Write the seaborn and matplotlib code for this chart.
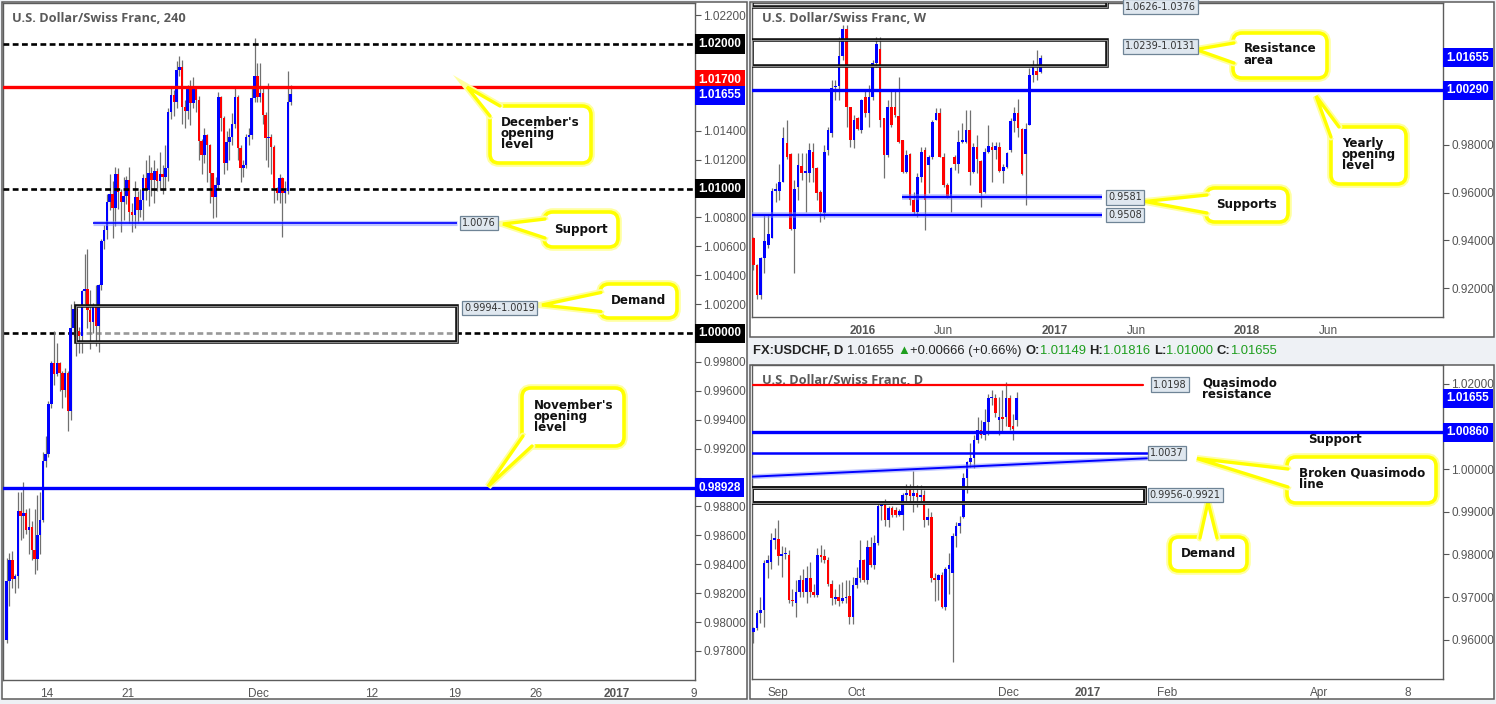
"""
USD/CHF 三联图: 4H / 周线 / 日线 K线 + 关键价位标注
"""
import numpy as np
import matplotlib
matplotlib.use("Agg")
import matplotlib.pyplot as plt
import seaborn as sns
from matplotlib.patches import Rectangle, FancyBboxPatch, Polygon

sns.set_style("white")
plt.rcParams['font.family'] = ['Liberation Sans', 'DejaVu Sans']

# ---------------- 4H 数据 (开盘 = 上一根收盘) ----------------
h4_first_open = 0.97878
h4_close = [
    .98281, .98431, .98298, .98316, .98770, .98731, .98754, .98639, .98660, .98500,
    .98438, .98604, .98708, .99112, .99163, .99511, .99792, .99716, .99792, .99723,
    .99603, .99723, .99458, 1.00035, 1.00168, 1.00011, .99977, 1.00293, 1.00305, 1.00161,
    1.00074, 1.00196, 1.00046, 1.00331, 1.00634,
    1.00710, 1.00906, 1.00963, 1.00866, 1.01104, 1.00973, 1.00909, 1.00950, 1.01060, 1.00840,
    1.00820, 1.00940, 1.00850, 1.00920, 1.01070, 1.00990, 1.01110, 1.01060, 1.01120, 1.01050,
    1.01100, 1.01080, 1.01140,
    1.01532, 1.01647, 1.01601, 1.01820, 1.01843, 1.01566, 1.01540, 1.01705, 1.01589, 1.01700,
    1.01612, 1.01330, 1.01232, 1.01370, 1.01301, 1.01105, 1.00943, 1.01024, 1.01636, 1.01486,
    1.01174, 1.01324, 1.01359, 1.01446, 1.01636, 1.01278, 1.01140, 1.01163, 1.01359, 1.01370,
    1.01624, 1.01779, 1.01636, 1.01663, 1.01509, 1.01347, 1.01359, 1.01289, 1.01001, 1.00967,
    1.01070, 1.00967, 1.00985, 1.01601, 1.01655]
h4_high = [
    .98443, .98477, .98489, .98330, .98897, .98897, .98967, .98780, .98790, .98700,
    .98780, .98880, .98900, .99180, .99285, .99530, .99810, 1.00011, .99931, .99800,
    .99740, .99760, .99740, 1.00200, 1.00225, 1.00190, 1.00040, 1.00300, 1.00550, 1.00581,
    1.00300, 1.00210, 1.00330, 1.00340, 1.00650,
    1.00750, 1.00960, 1.01098, 1.01051, 1.01150, 1.01140, 1.01000, 1.01080, 1.01090, 1.01150,
    1.00900, 1.01053, 1.00980, 1.01000, 1.01100, 1.01200, 1.01230, 1.01150, 1.01200, 1.01140,
    1.01250, 1.01160, 1.01300,
    1.01560, 1.01700, 1.01680, 1.01880, 1.01920, 1.01890, 1.01610, 1.01720, 1.01750, 1.01770,
    1.01710, 1.01640, 1.01340, 1.01420, 1.01380, 1.01310, 1.01105, 1.01080, 1.01670, 1.01640,
    1.01500, 1.01400, 1.01420, 1.01520, 1.01700, 1.01650, 1.01300, 1.01200, 1.01380, 1.01420,
    1.01700, 1.02039, 1.01870, 1.01870, 1.01700, 1.01530, 1.01728, 1.01380, 1.01300, 1.01010,
    1.01100, 1.01080, 1.01050, 1.01815, 1.01720]
h4_low = [
    .97855, .98108, .98235, .98201, .98235, .98570, .98580, .98610, .98470, .98430,
    .98330, .98360, .98470, .98690, .99070, .99140, .99480, .99640, .99700, .99600,
    .99481, .99560, .99320, .99400, .99980, .99840, .99860, .99860, 1.00200, 1.00035,
    .99890, 1.00000, .99910, .99870, 1.00300,
    1.00580, 1.00650, 1.00850, 1.00660, 1.00740, 1.00860, 1.00700, 1.00780, 1.00890, 1.00760,
    1.00700, 1.00730, 1.00760, 1.00800, 1.00780, 1.00920, 1.00880, 1.00950, 1.00900, 1.00980,
    1.00990, 1.00960, 1.01000,
    1.01050, 1.01480, 1.01500, 1.01560, 1.01780, 1.01450, 1.01420, 1.01480, 1.01440, 1.01560,
    1.01530, 1.01200, 1.01100, 1.01180, 1.01047, 1.00900, 1.00794, 1.00800, 1.00990, 1.01400,
    1.01100, 1.01130, 1.01200, 1.01300, 1.01420, 1.01200, 1.01047, 1.01080, 1.01140, 1.01300,
    1.01340, 1.01600, 1.01600, 1.01600, 1.01450, 1.01200, 1.01150, 1.01100, 1.00900, 1.00920,
    1.00900, 1.00667, 1.00900, 1.00960, 1.01580]
h4_ticks = [14.5, 43.6, 90.3, 131.2, 160.7, 190.1, 219.2, 246.6]
h4_tick_labels = ['14', '21', 'Dec', '12', '19', '26', '2017', '9']

# ---------------- 周线数据 ----------------
w_open = [
    .9409, .9297, .9171, .9325, .9381, .9409, .9608, .9608, .9646, .9806,
    .9762, .9450, .9625, .9711, .9683, .9683, .9771, .9702, .9604, .9513,
    .9778, .9848, 1.0041, 1.0046, 1.0172, 1.0287, .9960, .9820, .9911, .9862,
    .9999, .9932, 1.0001, 1.0144, 1.0200, .9911, .9757, .9957, .9960, .9921,
    .9820, .9688, .9762, .9569, .9520, .9664, .9778, .9715, .9750, .9904,
    .9935, .9750, .9632, .9583, .9750, .9722, .9813, .9813, .9862, .9688,
    .9792, .9732, .9604, .9771, .9792, .9778, .9792, .9692, .9709, .9778,
    .9901, .9935, .9865, .9762, .9883, 1.0092, 1.0110, 1.0106]
w_close = [
    .9297, .9171, .9325, .9399, .9429, .9608, .9611, .9646, .9827, .9750,
    .9450, .9614, .9714, .9681, .9692, .9778, .9702, .9600, .9520, .9771,
    .9862, 1.0036, 1.0046, 1.0172, 1.0283, .9960, .9820, .9904, .9865, .9988,
    .9932, .9999, 1.0144, 1.0222, .9904, .9757, .9960, .9883, .9925, .9813,
    .9688, .9757, .9569, .9520, .9664, .9771, .9569, .9750, .9897, .9932,
    .9750, .9632, .9586, .9702, .9722, .9813, .9816, .9862, .9688, .9792,
    .9739, .9597, .9771, .9796, .9778, .9796, .9692, .9709, .9764, .9901,
    .9932, .9869, .9678, .9865, 1.0092, 1.0124, 1.0092, 1.01655]
w_high = [
    .9416, .9300, .9332, .9506, .9506, .9618, .9640, .9722, .9876, .9904,
    .9764, .9653, .9764, .9764, .9764, .9806, .9806, .9709, .9611, .9799,
    .9876, 1.0071, 1.0071, 1.0253, 1.0301, 1.0301, .9960, .9925, .9918, .9994,
    1.0032, 1.0050, 1.0155, 1.0253, 1.0253, .9911, .9988, 1.0032, 1.0032, 1.0085,
    .9820, .9778, .9764, .9604, .9681, .9792, .9792, .9757, .9904, .9953,
    .9953, .9764, .9640, .9709, .9757, .9862, .9890, .9946, .9946, .9806,
    .9841, .9736, .9785, .9883, .9813, .9813, .9813, .9722, .9771, .9911,
    .9960, .9994, .9869, .9893, 1.0120, 1.0155, 1.0197, 1.0176]
w_low = [
    .9276, .9157, .9157, .9262, .9367, .9499, .9560, .9569, .9646, .9743,
    .9443, .9262, .9569, .9653, .9520, .9646, .9646, .9569, .9478, .9492,
    .9757, .9834, .9988, .9988, 1.0155, .9876, .9792, .9785, .9862, .9848,
    .9918, .9876, .9988, 1.0127, .9876, .9660, .9750, .9876, .9918, .9806,
    .9681, .9681, .9548, .9506, .9499, .9646, .9443, .9600, .9743, .9904,
    .9750, .9625, .9576, .9520, .9695, .9681, .9806, .9806, .9632, .9681,
    .9681, .9541, .9597, .9764, .9646, .9743, .9688, .9639, .9702, .9771,
    .9855, .9834, .9674, .9548, .9883, 1.0064, 1.0071, 1.0099]
w_ticks = [29.3, 51.1, 80.9, 102.6, 132.4, 154.3]
w_tick_labels = ['2016', 'Jun', '2017', 'Jun', '2018', 'Jun']

# ---------------- 日线数据 ----------------
d_open = [
    .9619, .9627, .9662, .9670, .9779, .9783, .9834, .9837, .9797, .9800,
    .9799, .9693, .9686, .9713, .9740, .9713, .9744, .9713, .9705, .9799,
    .9797, .9787, .9732, .9696, .9701, .9690, .9697, .9702, .9654, .9728,
    .9746, .9787, .9740, .9818, .9775, .9826, .9913, .9920, .9881, .9909,
    .9904, .9893, .9893, .9939, .9951, .9938, .9945, .9935, .9940, .9881,
    .9887, .9744, .9740, .9752, .9678, .9766, .9756, .9844, .9867, .9888,
    .9978, 1.0017, 1.0025, 1.0068, 1.0092, 1.0080, 1.0111, 1.0166, 1.0166, 1.0115,
    1.0123, 1.0123, 1.0166, 1.0100, 1.01149]
d_high = [
    .9631, .9670, .9701, .9787, .9799, .9850, .9861, .9880, .9820, .9818,
    .9811, .9720, .9740, .9752, .9767, .9773, .9782, .9730, .9815, .9822,
    .9814, .9795, .9740, .9720, .9730, .9736, .9740, .9740, .9748, .9771,
    .9834, .9790, .9834, .9842, .9846, .9918, .9923, .9930, .9913, .9913,
    .9912, .9906, .9943, .9966, .9964, .9995, .9962, .9963, .9950, .9908,
    .9900, .9756, .9755, .9758, .9770, .9804, .9850, .9875, .9890, .9990,
    1.0020, 1.0060, 1.0080, 1.0123, 1.0115, 1.0140, 1.0177, 1.0185, 1.0177, 1.0170,
    1.0185, 1.0203, 1.0174, 1.0130, 1.01816]
d_low = [
    .9592, .9623, .9639, .9631, .9744, .9767, .9814, .9775, .9748, .9790,
    .9686, .9680, .9654, .9701, .9701, .9687, .9701, .9700, .9700, .9783,
    .9779, .9726, .9682, .9684, .9680, .9686, .9686, .9637, .9638, .9721,
    .9736, .9736, .9732, .9770, .9767, .9822, .9880, .9867, .9864, .9888,
    .9888, .9889, .9857, .9924, .9920, .9900, .9912, .9920, .9865, .9870,
    .9736, .9690, .9693, .9675, .9670, .9708, .9549, .9818, .9850, .9885,
    .9943, 1.0005, 1.0002, 1.0060, 1.0074, 1.0068, 1.0080, 1.0150, 1.0123, 1.0080,
    1.0090, 1.0101, 1.0092, 1.0067, 1.01000]
d_close = [
    .9627, .9662, .9670, .9779, .9787, .9834, .9838, .9797, .9799, .9803,
    .9693, .9690, .9713, .9740, .9713, .9744, .9713, .9705, .9799, .9795,
    .9787, .9732, .9697, .9700, .9690, .9697, .9700, .9654, .9728, .9746,
    .9787, .9740, .9818, .9775, .9826, .9913, .9920, .9881, .9909, .9893,
    .9893, .9903, .9939, .9943, .9938, .9945, .9935, .9939, .9881, .9887,
    .9744, .9740, .9752, .9678, .9766, .9775, .9844, .9867, .9873, .9978,
    1.0017, 1.0025, 1.0068, 1.0092, 1.0080, 1.0111, 1.0166, 1.0167, 1.0131, 1.0123,
    1.0117, 1.0166, 1.0099, 1.0094, 1.01655]
d_ticks = [6.9, 28.9, 71.6, 94.0, 116.2, 158.9, 183.9]
d_tick_labels = ['Sep', 'Oct', 'Dec', '2017', 'Feb', 'Apr', '8']
d_qm_line = {'x': [-0.37, 110.6], 'y': [0.99822, 1.00253]}

BLUE, RED, BLACK, GREY = '#0000ff', '#ff0000', '#000000', '#555555'
W, H = 1496, 704

fig = plt.figure(figsize=(W / 100, H / 100), dpi=100, facecolor='#eef1f5')

# 覆盖层 (像素坐标): 标注框、表头、价位小标签
ov = fig.add_axes([0, 0, 1, 1], zorder=20)
ov.set_xlim(0, W)
ov.set_ylim(H, 0)
ov.axis('off')
ov.patch.set_alpha(0)


def frame(x0, y0, x1, y1):
    fig.add_artist(Rectangle((x0 / W, 1 - y1 / H), (x1 - x0) / W, (y1 - y0) / H,
                             transform=fig.transFigure, fc='white', ec='#5c5c5c', lw=1.1, zorder=0))


def make_ax(x0, y0, x1, y1, xlim, ylim, yticks, hidden, xticks, xlabels):
    ax = fig.add_axes([x0 / W, 1 - y1 / H, (x1 - x0) / W, (y1 - y0) / H])
    ax.set_xlim(*xlim)
    ax.set_ylim(*ylim)
    ax.yaxis.tick_right()
    ax.set_yticks(yticks)
    ax.set_yticklabels(['' if round(v, 3) in hidden else f'{v:.5f}' for v in yticks])
    ax.set_xticks(xticks)
    ax.set_xticklabels(xlabels)
    for lab in ax.get_xticklabels():
        if lab.get_text() in ('2016', '2017', '2018'):
            lab.set_fontweight('bold')
    ax.tick_params(axis='both', direction='out', length=4, width=0.8, color=GREY,
                   labelsize=8.5, labelcolor=GREY, pad=2)
    for s in ax.spines.values():
        s.set_color('#5c5c5c')
        s.set_linewidth(1.0)
    ax.grid(False)
    return ax


def candles(ax, o, h, l, c, width, min_body):
    o, h, l, c = map(np.asarray, (o, h, l, c))
    x = np.arange(len(o))
    h = np.maximum(h, np.maximum(o, c))
    l = np.minimum(l, np.minimum(o, c))
    ax.vlines(x, l, h, color='#707070', lw=0.9, zorder=3)
    lo = np.minimum(o, c)
    ht = np.maximum(np.abs(c - o), min_body)
    ax.bar(x, ht, bottom=lo, width=width, color=np.where(c >= o, BLUE, RED), lw=0, zorder=3.2)


def price_box(ax, y, s, color, dy=0):
    ax.annotate(s, xy=(1, y), xycoords=('axes fraction', 'data'), xytext=(2.5, dy),
                textcoords='offset points', ha='left', va='center', fontsize=8.5,
                fontweight='bold', color='white', annotation_clip=False, zorder=10,
                bbox=dict(boxstyle='square,pad=0.3', fc=color, ec='none'))


def tag(ax, x, y, s):
    px, py = ax.transData.transform((x, y))
    ov.text(px, H - py, s, fontsize=7, color='#333333', ha='left', va='center',
            family='DejaVu Sans', zorder=30,
            bbox=dict(boxstyle='square,pad=0.22', fc='#dfe7ef', ec='#6f8496', lw=0.9))


def glow_hline(ax, y, x0, x1, lw=1.6):
    ax.plot([x0, x1], [y, y], color='#7f8cff', lw=lw + 2.5, alpha=0.5, zorder=4.9, solid_capstyle='butt')
    ax.plot([x0, x1], [y, y], color=BLUE, lw=lw, zorder=5, solid_capstyle='butt')


def zone(ax, x0, x1, y0, y1, lw=2.6):
    ax.add_patch(Rectangle((x0, y0), x1 - x0, y1 - y0, fc='none', ec='#111111', lw=lw, zorder=5))
    ax.add_patch(Rectangle((x0, y0), x1 - x0, y1 - y0, fc='none', ec='#8a8a8a', lw=0.8, zorder=5.1))


# ---------------- 面板框 ----------------
frame(2, 2, 747, 699)
frame(750, 2, 1494, 337)
frame(750, 365, 1494, 699)

# ---------------- 左: 4H ----------------
ax1 = make_ax(3, 3, 695, 680, (-1.33, 247.2), (0.97599, 1.02284),
              np.round(np.arange(0.978, 1.0221, 0.002), 3), {1.02, 1.018, 1.016, 1.01, 1.0, 0.99},
              h4_ticks, h4_tick_labels)
h4_open = np.r_[h4_first_open, h4_close[:-1]]
candles(ax1, h4_open, h4_high, h4_low, h4_close, 0.9, 0.00012)
dash = (0, (2.2, 1.3))
ax1.axhline(1.00, color=BLACK, lw=1.9, ls=dash, zorder=1)
ax1.add_patch(Rectangle((24.9, 0.9994), 161.7 - 24.9, 1.0019 - 0.9994, fc=(1, 1, 1, 0.6), ec='none', zorder=1.5))
zone(ax1, 24.9, 161.7, 0.9994, 1.0019)
ax1.axhline(1.02, color=BLACK, lw=1.9, ls=dash, zorder=5)
ax1.axhline(1.01, color=BLACK, lw=1.9, ls=dash, zorder=5)
ax1.axhline(1.017, color=RED, lw=2.4, zorder=5)
ax1.axhline(0.98928, color=BLUE, lw=2.4, zorder=5)
glow_hline(ax1, 1.0076, 31.0, 161.7, lw=1.2)
tag(ax1, 163.5, 1.0076, '1.0076')
tag(ax1, 164.3, 1.00173, '0.9994-1.0019')
price_box(ax1, 1.02, '1.02000', BLACK)
price_box(ax1, 1.017, '1.01700', RED, dy=5.5)
price_box(ax1, 1.01655, '1.01655', BLUE, dy=-1)
price_box(ax1, 1.01, '1.01000', BLACK)
price_box(ax1, 1.00, '1.00000', BLACK)
price_box(ax1, 0.98928, '0.98928', BLUE)

# ---------------- 右上: 周线 ----------------
ax2 = make_ax(752, 3, 1443, 317, (-0.35, 184.9), (0.90799, 1.03937),
              np.round(np.arange(0.92, 1.021, 0.02), 2), {1.02, 1.0},
              w_ticks, w_tick_labels)
candles(ax2, w_open, w_high, w_low, w_close, 0.72, 0.0006)
zone(ax2, -0.35, 94.8, 1.0376, 1.0626)
zone(ax2, -0.35, 94.8, 1.0131, 1.0239)
ax2.axhline(1.0029, color=BLUE, lw=2.4, zorder=5)
glow_hline(ax2, 0.9581, 39.9, 93.5)
glow_hline(ax2, 0.9508, -0.35, 93.5)
tag(ax2, 99.6, 1.0379, '1.0626-1.0376')
tag(ax2, 99.6, 1.0212, '1.0239-1.0131')
tag(ax2, 95.1, 0.9580, '0.9581')
tag(ax2, 95.1, 0.95067, '0.9508')
price_box(ax2, 1.01655, '1.01655', BLUE)
price_box(ax2, 1.0029, '1.00290', BLUE)

# ---------------- 右下: 日线 ----------------
ax3 = make_ax(752, 365, 1443, 679, (-0.37, 193.8), (0.95084, 1.02438),
              np.round(np.arange(0.96, 1.021, 0.01), 2), {1.01},
              d_ticks, d_tick_labels)
candles(ax3, d_open, d_high, d_low, d_close, 0.75, 0.0004)
ax3.plot([0, 109.5], [1.0198, 1.0198], color=RED, lw=1.6, zorder=5)
ax3.axhline(1.0086, color=BLUE, lw=2.4, zorder=5)
ax3.plot([-0.37, 110.6], [1.0037, 1.0037], color=BLUE, lw=1.8, zorder=5)
sns.lineplot(x=d_qm_line['x'], y=d_qm_line['y'], ax=ax3, color='#7f8cff', lw=3.5, alpha=0.5, zorder=4.9)
sns.lineplot(x=d_qm_line['x'], y=d_qm_line['y'], ax=ax3, color=BLUE, lw=1.4, zorder=5)
zone(ax3, -0.37, 110.1, 0.9921, 0.9956, lw=2.8)
tag(ax3, 112.3, 1.0198, '1.0198')
tag(ax3, 111.4, 1.0037, '1.0037')
tag(ax3, 111.4, 0.9940, '0.9956-0.9921')
price_box(ax3, 1.01655, '1.01655', BLUE)
price_box(ax3, 1.0086, '1.00860', BLUE)

# 标题
for ax, px, py, s in [(ax1, 12, 19, 'U.S. Dollar/Swiss Franc, 240'),
                      (ax2, 762, 19, 'U.S. Dollar/Swiss Franc, W'),
                      (ax3, 762, 381, 'U.S. Dollar/Swiss Franc, D')]:
    ax.text(px / W, 1 - py / H, s, transform=fig.transFigure, fontsize=9.2, fontweight='bold',
            family=['Open Sans', 'DejaVu Sans'], color='#5a5a5a', va='center', ha='left', zorder=1)

# ---------------- 标注框 ----------------
YEL = '#ffff00'


def callout(box, tip, base, text, txy, ha='left'):
    x0, y0, x1, y1 = box
    cx, cy = (x0 + x1) / 2, (y0 + y1) / 2
    for lw, col, z in [(5.5, '#ffffa0', 20), (2.6, YEL, 21)]:
        ov.add_patch(FancyBboxPatch((x0, y0), x1 - x0, y1 - y0,
                                    boxstyle='round,pad=0,rounding_size=9',
                                    fc='white', ec=col, lw=lw, zorder=z))
    inner = []
    for bx, by in base:
        vx, vy = cx - bx, cy - by
        n = np.hypot(vx, vy)
        inner.append((bx + 5 * vx / n, by + 5 * vy / n))
    xs = [base[0][0], tip[0], base[1][0]]
    ys = [base[0][1], tip[1], base[1][1]]
    ov.plot(xs, ys, color='#ffffa0', lw=5, zorder=21.5, solid_joinstyle='miter')
    ov.add_patch(Polygon([base[0], tip, base[1], inner[1], inner[0]], closed=True,
                         fc='white', ec='none', zorder=22))
    ov.plot(xs, ys, color=YEL, lw=2.4, zorder=22.5, solid_joinstyle='miter')
    ov.text(txy[0], txy[1], text, fontsize=8.6, fontweight='bold', family='DejaVu Sans',
            color='#111111', ha=ha, va='center', linespacing=0.82, zorder=23)


callout((490, 106, 591, 163), (467, 87), [(500, 106), (490, 116)],
        "December's\nopening\nlevel", (501, 133.5))
callout((544, 212, 618, 247), (503, 224), [(545, 219), (545, 238)],
        'Support', (581, 229.5), ha='center')
callout((600, 284, 677, 318), (542, 305), [(601, 292.5), (601, 311.5)],
        'Demand', (638.5, 301), ha='center')
callout((522, 388, 624, 446), (488, 486.5), [(523, 436), (532, 446)],
        "November's\nopening\nlevel", (534, 416.5))
callout((1233, 33, 1327, 78), (1196, 49.5), [(1234, 43), (1234, 63)],
        'Resistance\narea', (1244, 54.5))
callout((1331, 127, 1406, 184), (1316, 96), [(1339, 127), (1331, 137)],
        'Yearly\nopening\nlevel', (1342, 154.5))
callout((1206, 188, 1288, 222), (1145, 201.5), [(1207, 195), (1207, 213)],
        'Supports', (1247, 204.5), ha='center')
callout((1287, 457, 1436, 503), (1197, 458.5), [(1288, 469), (1288, 487)],
        'Broken Quasimodo\nline', (1299, 478.5))
callout((1170, 537, 1247, 571), (1208, 502), [(1200, 538), (1217, 538)],
        'Demand', (1209, 553.5), ha='center')

ov.text(1202, 389, 'Quasimodo\nresistance', fontsize=8.6, fontweight='bold', family='DejaVu Sans',
        color='#111111', ha='left', va='center', linespacing=0.82, zorder=23)
ov.text(1335, 440, 'Support', fontsize=8.6, fontweight='bold', family='DejaVu Sans',
        color='#111111', ha='center', va='center', zorder=23)

# ---------------- 日线表头 ----------------
GREEN = '#1e9e1e'
header = [('FX:USDCHF, D ', '#222222', 'bold'), ('1.01655 ', '#222222', 'normal'),
          ('▲', GREEN, 'normal'), ('+0.00666 (+0.66%) ', '#222222', 'normal'),
          ('O:', '#222222', 'bold'), ('1.01149 ', GREEN, 'normal'),
          ('H:', '#222222', 'bold'), ('1.01816 ', GREEN, 'normal'),
          ('L:', '#222222', 'bold'), ('1.01000 ', GREEN, 'normal'),
          ('C:', '#222222', 'bold'), ('1.01655', GREEN, 'normal')]
renderer = fig.canvas.get_renderer()
hx = 753
for s, col, wt in header:
    t = ov.text(hx, 351, s, color=col, fontweight=wt, fontsize=9.4, va='center', ha='left',
                family=['Liberation Sans', 'DejaVu Sans'], zorder=23)
    hx += t.get_window_extent(renderer).width

fig.savefig('out.png', dpi=100, facecolor=fig.get_facecolor())
